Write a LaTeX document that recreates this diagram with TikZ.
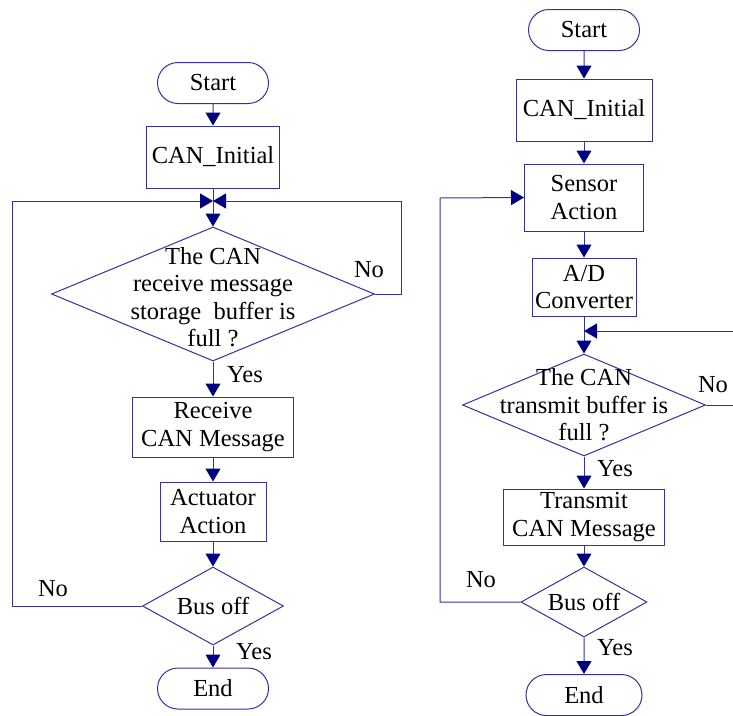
\documentclass[tikz,border=0pt]{standalone}
\usepackage{fontspec}
\setmainfont{Liberation Serif}
\usetikzlibrary{shapes.geometric,shapes.misc,arrows.meta}
\definecolor{linec}{RGB}{50,50,160}
\definecolor{tipc}{RGB}{0,0,128}
\begin{document}
\begin{tikzpicture}[x=1pt,y=-1pt,
  every node/.style={font=\fontsize{24.5}{27.5}\selectfont, text=black},
  base/.style={draw=linec, line width=1pt, inner sep=0pt},
  procbox/.style={base, rectangle, align=center},
  term/.style={base, rounded rectangle, minimum width=111pt, minimum height=41pt},
  decide/.style={base, diamond},
  txt/.style={inner sep=0pt, align=center},
  flow/.style={draw=linec, line width=1pt, -{Triangle[length=13pt,width=15pt,color=tipc,fill=tipc]}}]
\useasboundingbox (0,0) rectangle (733,715);

% ---------- left chart ----------
\node[term] (start1) at (213,83) {Start};
\node[procbox, minimum width=133pt, minimum height=62pt] (init1) at (213,157) {CAN\_Initial};
\node[decide, minimum width=323pt, minimum height=134pt] (d1) at (213,294) {};
\node[txt] (d1t) at (213,297) {The CAN\\receive message\\storage\ \ buffer is\\full ?};
\node[procbox, minimum width=161pt, minimum height=60pt] (recv) at (213,427) {Receive\\CAN Message};
\node[procbox, minimum width=106pt, minimum height=59pt] (act) at (213,511.5) {Actuator\\Action};
\node[decide, minimum width=141pt, minimum height=78pt] (bus1) at (213,606) {};
\node[txt] (bus1t) at (213,606) {Bus off};
\node[term] (end1) at (213,688.5) {End};

\coordinate (j1) at (213,201);
\coordinate (r1a) at (401,294);
\coordinate (r1b) at (401,201);
\coordinate (l1a) at (12,606);
\coordinate (l1b) at (12,201);

\draw[flow] (start1) -- (init1);
\draw[flow] (init1) -- (d1.north);
\draw[flow] (d1.east) -- (r1a) -- (r1b) -- (j1);
\draw[flow] (bus1.west) -- (l1a) -- (l1b) -- (j1);
\draw[flow] (d1.south) -- (recv);
\draw[flow] (recv) -- (act);
\draw[flow] (act) -- (bus1.north);
\draw[flow] (bus1.south) -- (end1);

\node[txt] (no1) at (369,270) {No};
\node[txt] (yes1) at (245,375) {Yes};
\node[txt] (no2) at (53,589) {No};
\node[txt] (yes2) at (254,652) {Yes};

% ---------- right chart ----------
\node[term] (start2) at (584,30) {Start};
\node[procbox, minimum width=136pt, minimum height=62pt] (init2) at (584,110) {CAN\_Initial};
\node[procbox, minimum width=119pt, minimum height=67pt] (sens) at (584,197.5) {Sensor\\Action};
\node[procbox, minimum width=104pt, minimum height=58pt] (ad) at (584,287) {A/D\\Converter};
\node[decide, minimum width=243pt, minimum height=102pt] (d2) at (584,405) {};
\node[txt] (d2t) at (584,405) {The CAN\\transmit buffer is\\full ?};
\node[procbox, minimum width=161pt, minimum height=56pt] (trans) at (584,517) {Transmit\\CAN Message};
\node[decide, minimum width=126pt, minimum height=70pt] (bus2) at (584,602) {};
\node[txt] (bus2t) at (584,602) {Bus off};
\node[term, minimum width=116pt] (end2) at (584,695) {End};

\coordinate (j2) at (584,331);
\coordinate (r2a) at (740,405);
\coordinate (r2b) at (740,331);
\coordinate (l2a) at (440,602);
\coordinate (l2b) at (440,198);

\draw[flow] (start2) -- (init2);
\draw[flow] (init2) -- (sens);
\draw[flow] (sens) -- (ad);
\draw[flow] (ad) -- (d2.north);
\draw[flow] (d2.east) -- (r2a) -- (r2b) -- (j2);
\draw[flow] (d2.south) -- (trans);
\draw[flow] (trans) -- (bus2.north);
\draw[flow] (bus2.west) -- (l2a) -- (l2b) -- (sens.west);
\draw[flow] (bus2.south) -- (end2);

\node[txt] (no3) at (713,385) {No};
\node[txt] (yes3) at (615,469) {Yes};
\node[txt] (no4) at (481,580) {No};
\node[txt] (yes4) at (615,648) {Yes};
\end{tikzpicture}
\end{document}
